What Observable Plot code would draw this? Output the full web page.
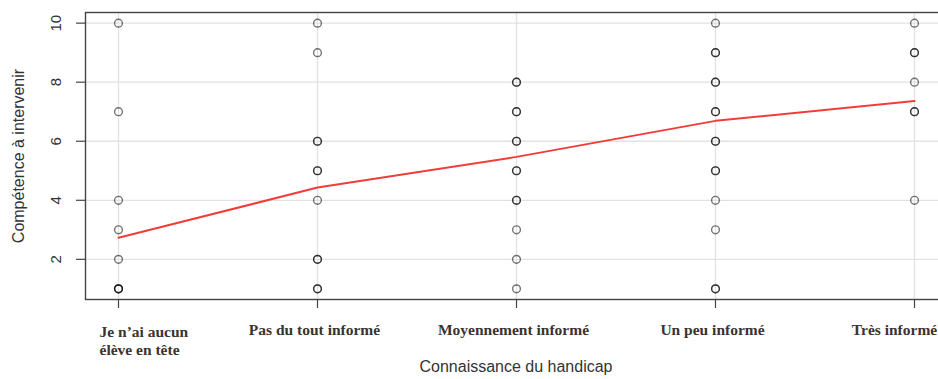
<!DOCTYPE html>
<html>
<head>
<meta charset="utf-8">
<script src="https://cdn.jsdelivr.net/npm/d3@7"></script>
<script src="https://cdn.jsdelivr.net/npm/@observablehq/plot@0.6"></script>
<style>
  html, body { margin: 0; padding: 0; background: #fff; }
  #chart svg { display: block; }
</style>
</head>
<body>
<div id="chart"></div>
<script>
// Knowledge level categories (x axis)
const categories = [
  "Je n’ai aucun\nélève en tête",
  "Pas du tout informé",
  "Moyennement informé",
  "Un peu informé",
  "Très informé"
];

// Individual answers per category (repeated values overlap and draw darker)
const scoresAucun = [10, 7, 4, 3, 2, 1, 1, 1];
const scoresPasDuTout = [10, 9, 6, 6, 5, 5, 4, 2, 2, 1, 1];
const scoresMoyen = [8, 8, 7, 7, 6, 6, 5, 5, 4, 4, 3, 2, 1];
const scoresUnPeu = [10, 9, 9, 8, 8, 7, 7, 6, 6, 5, 5, 4, 3, 1, 1];
const scoresTres = [10, 9, 9, 8, 7, 7, 4];

// Mean score per category (red line)
const meanScores = [2.73, 4.43, 5.47, 6.69, 7.36];

const yTicks = [2, 4, 6, 8, 10];
const yTitle = "Compétence à intervenir";
const xTitle = "Connaissance du handicap";

const scoreLists = [scoresAucun, scoresPasDuTout, scoresMoyen, scoresUnPeu, scoresTres];
const points = scoreLists.flatMap((list, i) => list.map((score) => ({cat: categories[i], score})));
const means = categories.map((cat, i) => ({cat, score: meanScores[i]}));

const sans = "'Liberation Sans', Arial, sans-serif";
const serif = "'Liberation Serif', 'DejaVu Serif', serif";
const labelStyle = {
  x: (d) => d, frameAnchor: "bottom", lineAnchor: "top", dy: 24,
  fontSize: 15.5, fontWeight: 600, fontFamily: serif, fill: "#3a3330"
};

const chart = Plot.plot({
  width: 938,
  height: 379,
  marginLeft: 85,
  marginTop: 12,
  marginBottom: 80,
  marginRight: -8,
  style: {fontFamily: sans, background: "#fff", overflow: "hidden"},
  x: {type: "point", domain: categories, padding: 0.16, axis: null},
  y: {domain: [0.64, 10.36], axis: null},
  marks: [
    Plot.gridY(yTicks, {stroke: "#e2e2e2", strokeOpacity: 1, strokeWidth: 1.3}),
    Plot.gridX(categories, {stroke: "#e2e2e2", strokeOpacity: 1, strokeWidth: 1.3}),
    Plot.frame({stroke: "#444", strokeWidth: 1.4}),
    // y axis: ticks and rotated labels
    Plot.axisY(yTicks, {
      anchor: "left", tickSize: 9, tickPadding: 16, tickRotate: -90,
      stroke: "#444", strokeWidth: 1.2, fontSize: 15, fill: "#333", label: null
    }),
    // x axis ticks
    Plot.axisX(categories, {
      anchor: "bottom", tickSize: 9, stroke: "#444", strokeWidth: 1.2,
      tickFormat: () => "", label: null
    }),
    // x tick labels: two-line block on the left, centred ones in between,
    // the last one pulled in so it stays inside the panel
    Plot.text(categories.slice(0, 1), {...labelStyle, textAnchor: "start", dx: -19, lineHeight: 1.2}),
    Plot.text(categories.slice(1, -1), {...labelStyle, textAnchor: "middle", dx: -3}),
    Plot.text(categories.slice(-1), {...labelStyle, textAnchor: "middle", dx: -20}),
    // axis titles
    Plot.text([xTitle], {frameAnchor: "bottom", dy: 72, fontSize: 16, fill: "#333"}),
    Plot.text([yTitle], {
      frameAnchor: "left", textAnchor: "middle", rotate: -90, dx: -67, fontSize: 16, fill: "#333"
    }),
    // answers
    Plot.dot(points, {
      x: "cat", y: "score", r: 3.9, stroke: "#000", strokeOpacity: 0.55, strokeWidth: 1.4
    }),
    // mean line
    Plot.line(means, {x: "cat", y: "score", stroke: "#f23c3c", strokeWidth: 2})
  ]
});

document.getElementById("chart").appendChild(chart);
</script>
</body>
</html>
